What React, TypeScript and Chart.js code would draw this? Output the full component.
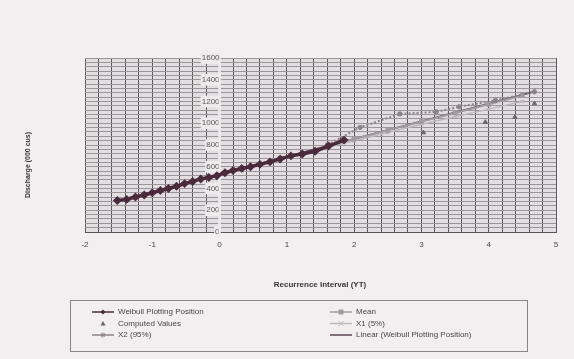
import React, { useEffect, useRef } from 'react';
import { Chart, registerables } from 'chart.js';

Chart.register(...registerables);

// ---- data ----
const weibullX = [-1.52, -1.38, -1.25, -1.12, -1.0, -0.88, -0.76, -0.64, -0.52, -0.4, -0.28, -0.16, -0.04, 0.08, 0.2, 0.33, 0.46, 0.6, 0.75, 0.9, 1.06, 1.23, 1.42, 1.62, 1.85];
const weibullQ = [290, 300, 322, 340, 360, 382, 400, 420, 445, 465, 488, 502, 518, 545, 565, 585, 600, 622, 645, 672, 700, 718, 742, 790, 845];

const computedX = [3.03, 3.95, 4.39, 4.68];
const computedQ = [914, 1010, 1057, 1181];

const x2X = [1.6, 2.09, 2.68, 3.22, 3.56, 4.1, 4.68];
const x2Q = [800, 962, 1086, 1105, 1152, 1210, 1290];

const meanX = [1.6, 2.0, 2.5, 3.0, 3.5, 4.0, 4.5];
const meanQ = [790, 855, 935, 1015, 1095, 1175, 1255];

const x1X = [1.6, 2.0, 2.5, 3.0, 3.5, 4.0, 4.5];
const x1Q = [780, 840, 915, 990, 1060, 1130, 1200];

const trendX = [-1.5, 4.7];
const trendQ = [290, 1295];

const xTickValues = [-2, -1, 0, 1, 2, 3, 4, 5];
const yTickLabels = [0, 200, 400, 600, 800, 1000, 1200, 1400, 1600];

const seriesNames = [
  'Weibull Plotting Position',
  'Computed Values',
  'X2 (95%)',
  'Mean',
  'X1 (5%)',
  'Linear (Weibull Plotting Position)',
];

const pts = (xs: number[], ys: number[]) => xs.map((x, i) => ({ x, y: ys[i] }));

const FONT = "'Liberation Sans', Arial, sans-serif";

const bgPlugin = {
  id: 'bgPlugin',
  beforeDraw(chart: any) {
    const { ctx, chartArea } = chart;
    ctx.save();
    ctx.fillStyle = '#f3eff1';
    ctx.fillRect(0, 0, chart.width, chart.height);
    ctx.fillStyle = '#e3dee1';
    ctx.fillRect(chartArea.left, chartArea.top, chartArea.right - chartArea.left, chartArea.bottom - chartArea.top);
    ctx.restore();
  },
};

function marker(ctx: CanvasRenderingContext2D, style: string, x: number, y: number, r: number, color: string) {
  ctx.save();
  ctx.fillStyle = color;
  ctx.strokeStyle = color;
  ctx.lineWidth = 1;
  ctx.beginPath();
  if (style === 'rectRot') {
    ctx.moveTo(x, y - r); ctx.lineTo(x + r, y); ctx.lineTo(x, y + r); ctx.lineTo(x - r, y); ctx.closePath(); ctx.fill();
  } else if (style === 'triangle') {
    ctx.moveTo(x, y - r); ctx.lineTo(x + r, y + r * 0.8); ctx.lineTo(x - r, y + r * 0.8); ctx.closePath(); ctx.fill();
  } else if (style === 'rect') {
    ctx.rect(x - r, y - r, 2 * r, 2 * r); ctx.fill();
  } else if (style === 'star') {
    ctx.moveTo(x - r, y); ctx.lineTo(x + r, y); ctx.moveTo(x, y - r); ctx.lineTo(x, y + r);
    ctx.moveTo(x - r * 0.7, y - r * 0.7); ctx.lineTo(x + r * 0.7, y + r * 0.7);
    ctx.moveTo(x + r * 0.7, y - r * 0.7); ctx.lineTo(x - r * 0.7, y + r * 0.7); ctx.stroke();
  } else if (style === 'crossRot') {
    ctx.moveTo(x - r, y - r); ctx.lineTo(x + r, y + r); ctx.moveTo(x + r, y - r); ctx.lineTo(x - r, y + r); ctx.stroke();
  }
  ctx.restore();
}

const textPlugin = {
  id: 'textPlugin',
  afterDraw(chart: any) {
    const { ctx } = chart;
    ctx.save();
    ctx.translate(28, 165);
    ctx.rotate(-Math.PI / 2);
    ctx.fillStyle = '#3a3437';
    ctx.font = `bold 7px ${FONT}`;
    ctx.textAlign = 'center';
    ctx.textBaseline = 'middle';
    ctx.fillText('Discharge (000 cus)', 0, 0);
    ctx.restore();

    ctx.save();
    ctx.fillStyle = '#3a3437';
    ctx.font = `bold 8px ${FONT}`;
    ctx.textAlign = 'center';
    ctx.textBaseline = 'middle';
    ctx.fillText('Recurrence Interval (YT)', 320, 285);
    ctx.restore();

    // legend
    ctx.save();
    ctx.strokeStyle = '#8a8487';
    ctx.lineWidth = 1;
    ctx.strokeRect(70.5, 300.5, 457, 51);
    const ds = chart.data.datasets;
    const cols = [
      { sx: 92, tx: 118 },
      { sx: 330, tx: 356 },
    ];
    const rows = [312, 323.5, 335];
    ctx.font = `8px ${FONT}`;
    ctx.textBaseline = 'middle';
    ds.forEach((d: any, i: number) => {
      const c = cols[Math.floor(i / 3)];
      const y = rows[i % 3];
      const len = c.tx - c.sx - 4;
      if (d.showLine !== false) {
        ctx.strokeStyle = d.borderColor;
        ctx.lineWidth = Math.min(d.borderWidth, 1.5);
        ctx.setLineDash([]);
        ctx.beginPath();
        ctx.moveTo(c.sx, y);
        ctx.lineTo(c.sx + len, y);
        ctx.stroke();
      }
      if (d.pointRadius > 0) {
        marker(ctx, d.pointStyle, c.sx + len / 2, y, 2.5, d.borderColor);
      }
      ctx.fillStyle = '#4a4447';
      ctx.textAlign = 'left';
      ctx.fillText(d.label, c.tx, y);
    });
    ctx.restore();
  },
};

export default function App() {
  const ref = useRef<HTMLCanvasElement>(null);
  useEffect(() => {
    const canvas = ref.current!;
    const mk = (label: string, xs: number[], ys: number[], color: string, extra: any) => ({
      label,
      data: pts(xs, ys),
      borderColor: color,
      backgroundColor: color,
      pointBackgroundColor: color,
      pointBorderColor: color,
      ...extra,
    });
    const chart = new Chart(canvas, {
      type: 'line',
      data: {
        datasets: [
          mk(seriesNames[0], weibullX, weibullQ, '#4b2b3b', { borderWidth: 3.5, pointStyle: 'rectRot', pointRadius: 2, showLine: true }),
          mk(seriesNames[1], computedX, computedQ, '#6e6469', { borderWidth: 1, pointStyle: 'triangle', pointRadius: 2.5, showLine: false }),
          mk(seriesNames[2], x2X, x2Q, '#8c8388', { borderWidth: 2, pointStyle: 'star', pointRadius: 2.5, showLine: true, borderDash: [2, 2] }),
          mk(seriesNames[3], meanX, meanQ, '#a39b9f', { borderWidth: 2, pointStyle: 'rect', pointRadius: 2, showLine: true }),
          mk(seriesNames[4], x1X, x1Q, '#c0b8bc', { borderWidth: 1.5, pointStyle: 'crossRot', pointRadius: 2, showLine: true }),
          mk(seriesNames[5], trendX, trendQ, '#5a4450', { borderWidth: 1.5, pointRadius: 0, showLine: true }),
        ],
      },
      options: {
        animation: false,
        responsive: false,
        maintainAspectRatio: false,
        layout: { padding: { left: 85, right: 18, top: 58, bottom: 107 } },
        plugins: { legend: { display: false }, tooltip: { enabled: false } },
        scales: {
          x: {
            type: 'linear',
            min: -2,
            max: 5,
            afterFit: (s: any) => { s.height = 20; },
            grid: { color: '#5e585b', lineWidth: 1, drawTicks: false },
            border: { color: '#555' },
            ticks: {
              stepSize: 0.2,
              autoSkip: false,
              maxRotation: 0,
              padding: 8,
              color: '#4a4447',
              font: { size: 8, family: FONT },
              callback: (v: any) => {
                const n = Math.round(v);
                return Math.abs(v - n) < 1e-6 && xTickValues.includes(n) ? String(n) : '';
              },
            },
          },
          y: {
            type: 'linear',
            position: { x: 0 } as any,
            min: 0,
            max: 1600,
            grid: { color: '#9c9699', lineWidth: 1, drawTicks: false },
            border: { color: '#444' },
            ticks: {
              stepSize: 40,
              autoSkip: false,
              padding: 2,
              color: '#5a5457',
              showLabelBackdrop: true,
              backdropColor: '#efebed',
              backdropPadding: 1,
              font: { size: 8, family: FONT },
              callback: (v: any) => (yTickLabels.includes(v) ? String(v) : ''),
            },
          },
        },
      } as any,
      plugins: [bgPlugin, textPlugin],
    });
    return () => chart.destroy();
  }, []);
  return (
    <div style={{ position: 'fixed', left: 0, top: 0, width: 574, height: 359 }}>
      <canvas ref={ref} width={574} height={359} style={{ width: 574, height: 359, display: 'block' }} />
    </div>
  );
}
